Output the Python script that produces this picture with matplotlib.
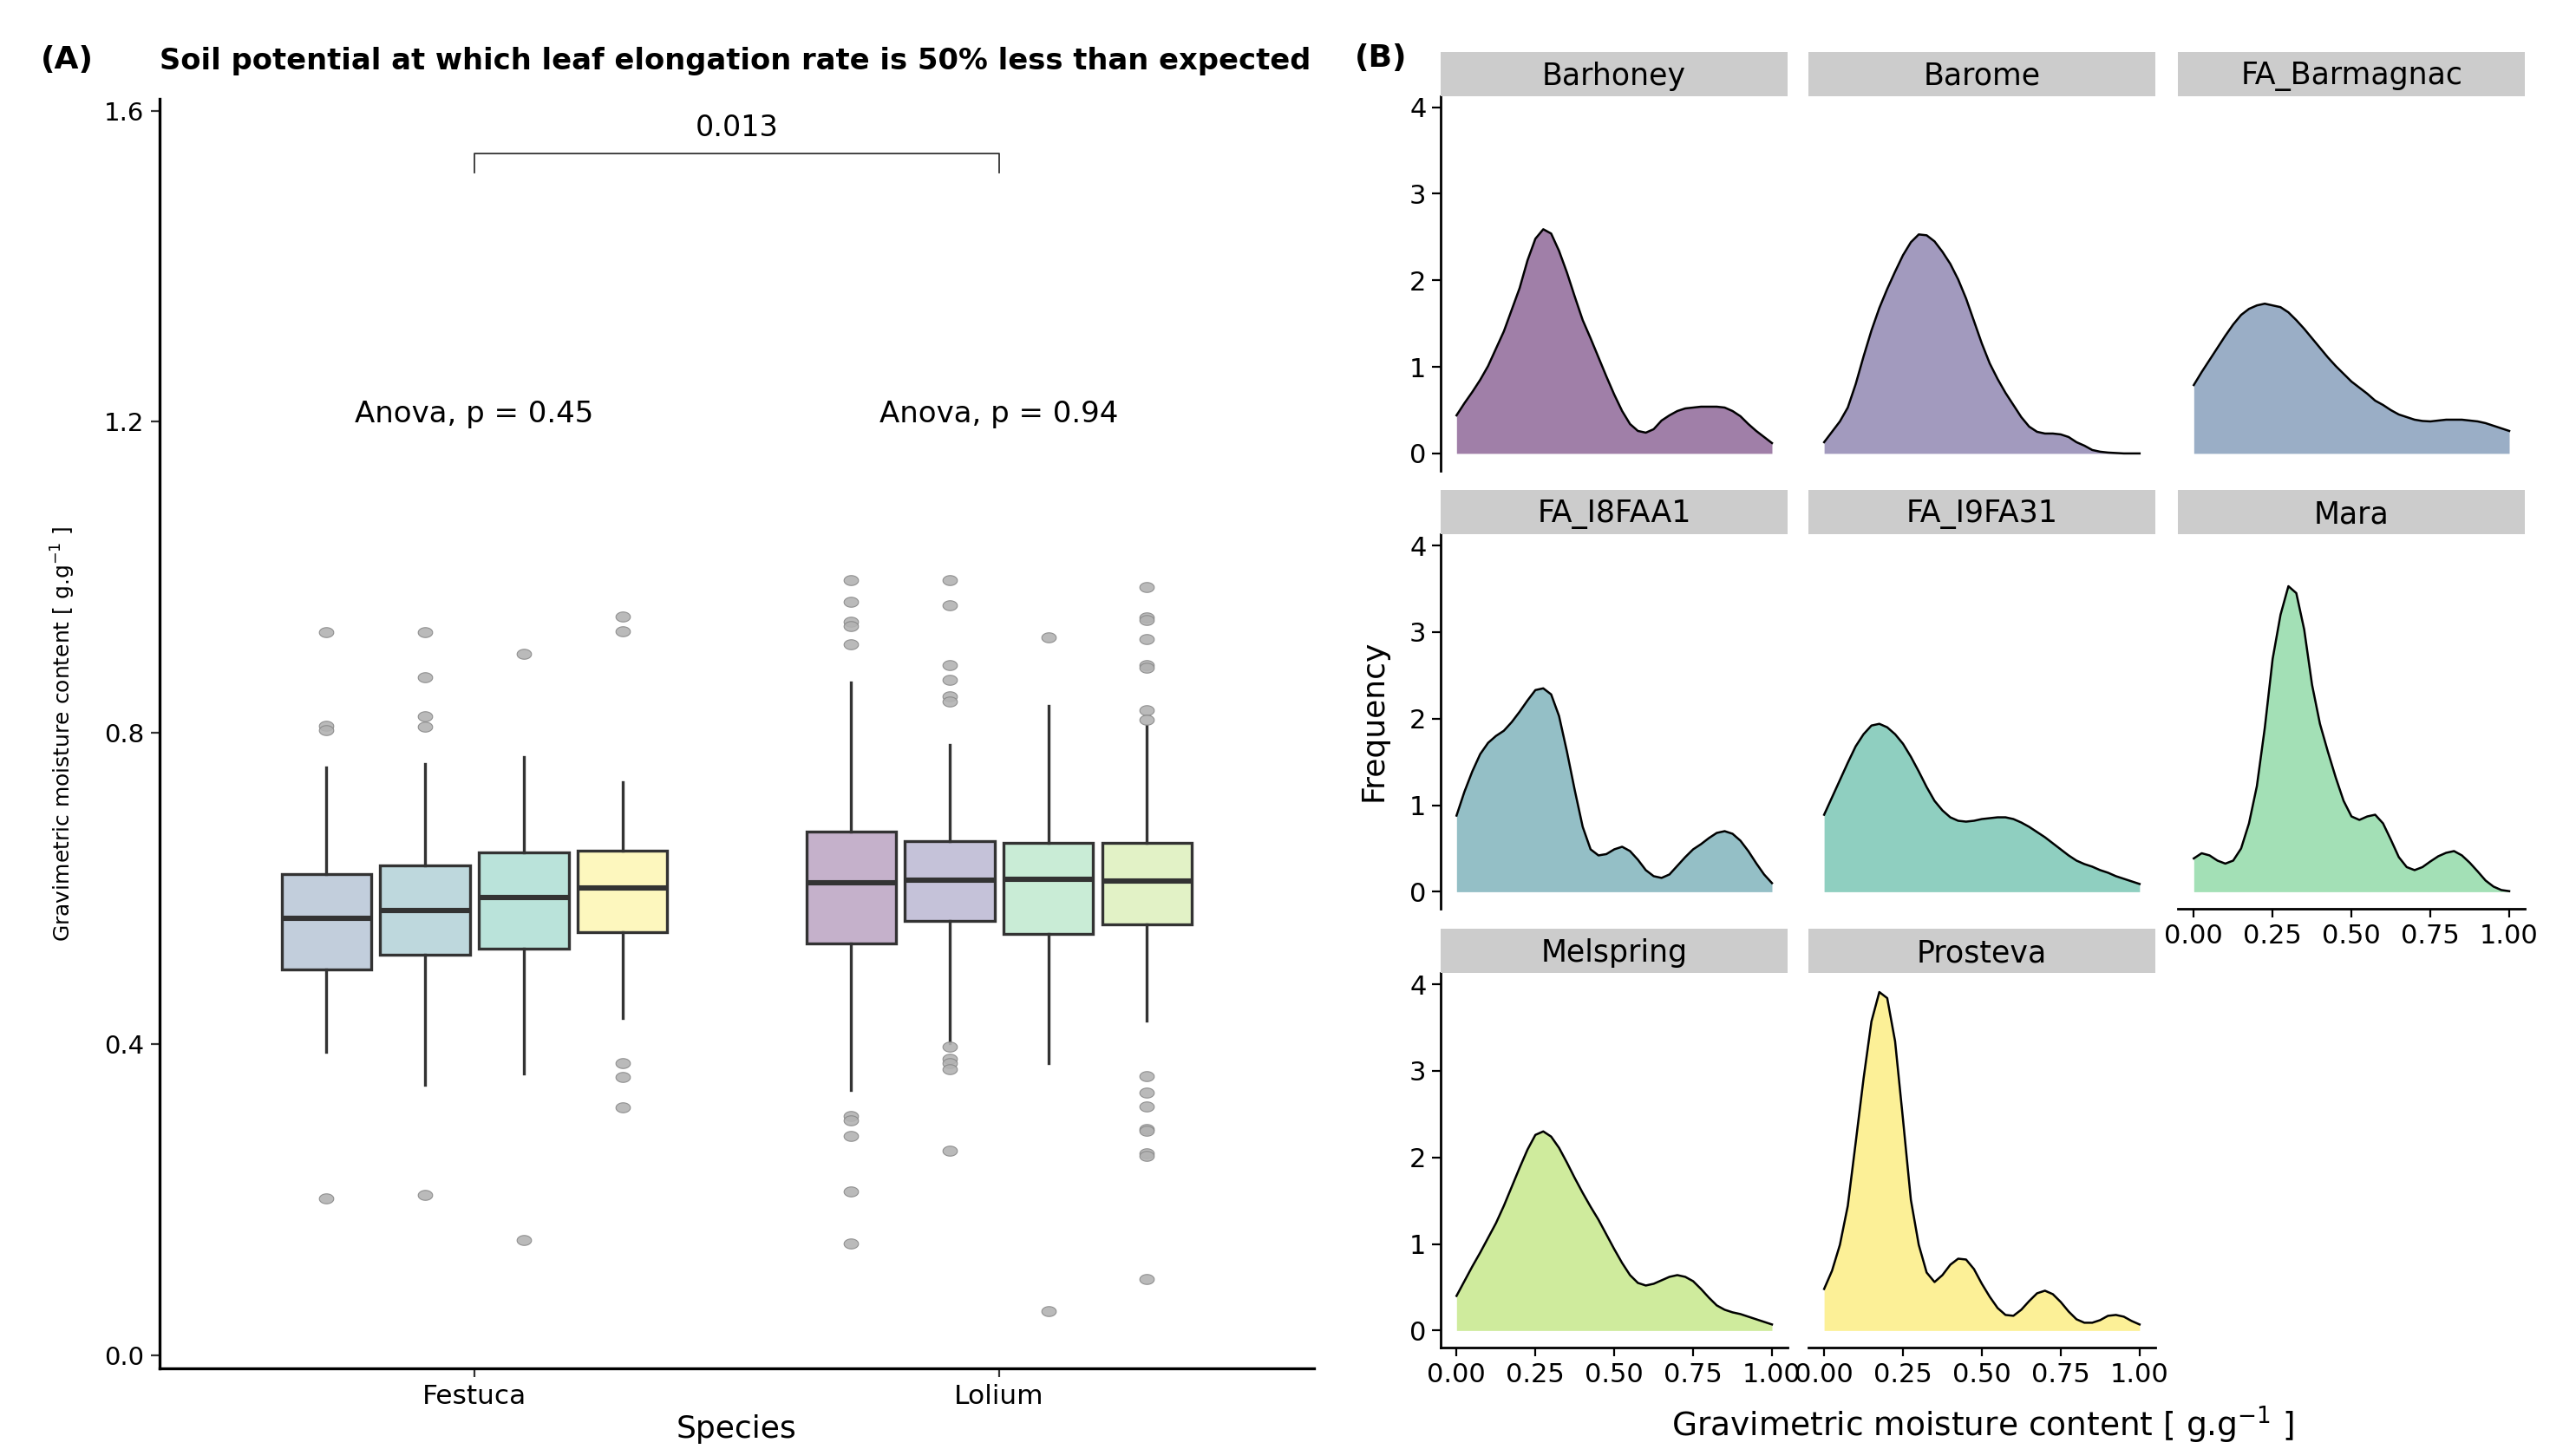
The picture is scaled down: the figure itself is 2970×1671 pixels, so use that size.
import numpy as np
import matplotlib.pyplot as plt
from matplotlib.markers import MarkerStyle

# ---- panel A : box plots ----
species = ["Festuca", "Lolium"]

festuca_q1 = [0.496, 0.515, 0.522, 0.544]
festuca_med = [0.561, 0.572, 0.588, 0.601]
festuca_q3 = [0.618, 0.630, 0.646, 0.649]
festuca_lo = [0.390, 0.348, 0.362, 0.433]
festuca_hi = [0.755, 0.760, 0.769, 0.737]
festuca_out = [[0.930, 0.809, 0.804, 0.201],
               [0.929, 0.871, 0.821, 0.808, 0.206],
               [0.902, 0.148],
               [0.949, 0.931, 0.375, 0.357, 0.319]]

lolium_q1 = [0.529, 0.558, 0.542, 0.554]
lolium_med = [0.607, 0.611, 0.612, 0.609]
lolium_q3 = [0.673, 0.661, 0.659, 0.658]
lolium_lo = [0.341, 0.401, 0.375, 0.430]
lolium_hi = [0.865, 0.785, 0.835, 0.809]
lolium_out = [[0.996, 0.968, 0.943, 0.937, 0.914, 0.307, 0.302, 0.282, 0.210, 0.144],
              [0.996, 0.964, 0.887, 0.868, 0.847, 0.840, 0.397, 0.381, 0.375, 0.368, 0.263],
              [0.923, 0.057],
              [0.988, 0.948, 0.945, 0.921, 0.887, 0.884, 0.829, 0.817,
               0.359, 0.338, 0.320, 0.291, 0.288, 0.259, 0.256, 0.098]]

festuca_colors = ["#c2cedc", "#bed8dd", "#bae3da", "#fdf7be"]
lolium_colors = ["#c5b1cb", "#c5c2d9", "#c9ecd6", "#e2f2c6"]

anova_labels = ["Anova, p = 0.45", "Anova, p = 0.94"]
pair_label = "0.013"

# ---- panel B : density curves, read every 0.025 g/g ----
gmc = np.linspace(0, 1, 41)
cultivars = ["Barhoney", "Barome", "FA_Barmagnac", "FA_I8FAA1", "FA_I9FA31",
             "Mara", "Melspring", "Prosteva"]

barhoney = [0.44, 0.58, 0.71, 0.85, 1.01, 1.21, 1.41, 1.66, 1.91, 2.23, 2.48, 2.59, 2.54, 2.34,
            2.09, 1.81, 1.54, 1.33, 1.11, 0.89, 0.68, 0.49, 0.34, 0.26, 0.24, 0.28, 0.38, 0.44,
            0.49, 0.52, 0.53, 0.54, 0.54, 0.54, 0.53, 0.49, 0.43, 0.34, 0.26, 0.19, 0.12]
barome = [0.13, 0.25, 0.37, 0.53, 0.80, 1.12, 1.42, 1.68, 1.90, 2.10, 2.29, 2.44, 2.53, 2.52,
          2.45, 2.33, 2.19, 2.01, 1.79, 1.53, 1.27, 1.04, 0.86, 0.70, 0.56, 0.42, 0.31, 0.25,
          0.23, 0.23, 0.22, 0.19, 0.13, 0.09, 0.04, 0.02, 0.01, 0.005, 0.0, 0.0, 0.0]
fa_barmagnac = [0.79, 0.94, 1.08, 1.22, 1.36, 1.49, 1.60, 1.67, 1.71, 1.73, 1.71, 1.69, 1.63, 1.54,
                1.44, 1.33, 1.22, 1.11, 1.01, 0.92, 0.83, 0.76, 0.69, 0.61, 0.56, 0.50, 0.45, 0.42,
                0.39, 0.375, 0.37, 0.38, 0.39, 0.39, 0.39, 0.38, 0.37, 0.35, 0.32, 0.29, 0.26]
fa_i8faa1 = [0.88, 1.155, 1.39, 1.59, 1.72, 1.80, 1.86, 1.96, 2.08, 2.21, 2.33, 2.35, 2.28, 2.03,
             1.62, 1.17, 0.75, 0.49, 0.42, 0.435, 0.49, 0.52, 0.47, 0.37, 0.25, 0.18, 0.16, 0.20,
             0.30, 0.40, 0.49, 0.55, 0.62, 0.68, 0.70, 0.67, 0.59, 0.47, 0.33, 0.20, 0.10]
fa_i9fa31 = [0.89, 1.09, 1.29, 1.49, 1.68, 1.82, 1.92, 1.94, 1.90, 1.82, 1.71, 1.56, 1.39, 1.21,
             1.05, 0.94, 0.86, 0.82, 0.81, 0.82, 0.84, 0.85, 0.86, 0.86, 0.84, 0.80, 0.75, 0.69,
             0.63, 0.56, 0.49, 0.42, 0.36, 0.32, 0.29, 0.25, 0.22, 0.18, 0.15, 0.12, 0.09]
mara = [0.385, 0.445, 0.42, 0.36, 0.325, 0.36, 0.50, 0.79, 1.22, 1.89, 2.69, 3.20, 3.53, 3.45,
        3.03, 2.39, 1.94, 1.62, 1.32, 1.05, 0.87, 0.83, 0.87, 0.89, 0.79, 0.60, 0.40, 0.285,
        0.25, 0.285, 0.35, 0.41, 0.45, 0.47, 0.42, 0.335, 0.235, 0.13, 0.06, 0.02, 0.007]
melspring = [0.40, 0.57, 0.74, 0.90, 1.07, 1.24, 1.44, 1.66, 1.88, 2.09, 2.26, 2.30, 2.24, 2.11,
             1.94, 1.76, 1.59, 1.43, 1.28, 1.11, 0.94, 0.78, 0.64, 0.55, 0.52, 0.54, 0.58, 0.62,
             0.64, 0.62, 0.57, 0.48, 0.38, 0.29, 0.24, 0.21, 0.19, 0.16, 0.13, 0.10, 0.07]
prosteva = [0.48, 0.69, 0.99, 1.44, 2.17, 2.91, 3.57, 3.91, 3.84, 3.34, 2.44, 1.51, 0.99, 0.67,
            0.56, 0.64, 0.76, 0.83, 0.82, 0.71, 0.54, 0.39, 0.26, 0.18, 0.17, 0.24, 0.34, 0.43,
            0.46, 0.42, 0.33, 0.22, 0.13, 0.09, 0.09, 0.12, 0.17, 0.18, 0.16, 0.11, 0.07]

densities = [barhoney, barome, fa_barmagnac, fa_i8faa1, fa_i9fa31, mara, melspring, prosteva]
density_colors = ["#a07fa8", "#a29abe", "#9aaec6", "#94bfc6", "#8fcfc0", "#a3e0b6",
                  "#cfeb9d", "#fcf097"]

dark = "#333333"


def box_panel(fig):
    ax = fig.add_axes([0.062, 0.0557, 0.448, 0.876])
    t = np.linspace(0, 2 * np.pi, 40)
    ellipse = MarkerStyle(np.column_stack([1.45 * np.cos(t), np.sin(t)]))
    offsets = [-0.282, -0.094, 0.094, 0.282]
    groups = [
        (festuca_q1, festuca_med, festuca_q3, festuca_lo, festuca_hi, festuca_out, festuca_colors),
        (lolium_q1, lolium_med, lolium_q3, lolium_lo, lolium_hi, lolium_out, lolium_colors),
    ]
    for g, (q1, med, q3, lo, hi, out, cols) in enumerate(groups):
        for j in range(4):
            st = dict(q1=q1[j], med=med[j], q3=q3[j], whislo=lo[j], whishi=hi[j], fliers=out[j])
            ax.bxp([st], positions=[g + 1 + offsets[j]], widths=0.171, patch_artist=True,
                   showcaps=False,
                   boxprops=dict(facecolor=cols[j], edgecolor=dark, linewidth=2.4),
                   medianprops=dict(color=dark, linewidth=4.4, solid_capstyle="butt"),
                   whiskerprops=dict(color=dark, linewidth=2.4),
                   flierprops=dict(marker=ellipse, markersize=12, markerfacecolor="#b3b3b3",
                                   markeredgecolor="#888888", markeredgewidth=0.8, alpha=0.9))

    # comparison bracket and labels
    ax.plot([1, 1, 2, 2], [1.52, 1.545, 1.545, 1.52], color=dark, lw=1.3)
    ax.text(1.5, 1.578, pair_label, ha="center", va="center", fontsize=24)
    for g, lab in enumerate(anova_labels):
        ax.text(g + 1, 1.21, lab, ha="center", va="center", fontsize=24.5)

    ax.set_xlim(0.4, 2.6)
    ax.set_ylim(-0.017, 1.615)
    ax.set_xticks([1, 2])
    ax.set_xticklabels(species, fontsize=22.5)
    ax.set_yticks([0.0, 0.4, 0.8, 1.2, 1.6])
    ax.set_yticklabels(["0.0", "0.4", "0.8", "1.2", "1.6"], fontsize=21)
    ax.tick_params(length=7, width=1.6, color=dark, pad=6)
    for s in ["top", "right"]:
        ax.spines[s].set_visible(False)
    for s in ["left", "bottom"]:
        ax.spines[s].set_linewidth(2.4)
    ax.set_xlabel("Species", fontsize=26, labelpad=4)
    ax.set_ylabel(r"Gravimetric moisture content [ g.g$^{-1}$ ]", fontsize=18, labelpad=22)


def density_panels(fig):
    lefts = [0.5593, 0.7020, 0.8455]
    bottoms = [0.6753, 0.3728, 0.0700]
    w, h, sh = 0.1347, 0.2585, 0.0305
    bottom_of_col = {5, 6, 7}
    for k, name in enumerate(cultivars):
        r, c = divmod(k, 3)
        ax = fig.add_axes([lefts[c], bottoms[r], w, h])
        ax.fill_between(gmc, 0, densities[k], color=density_colors[k], lw=0)
        ax.plot(gmc, densities[k], color="black", lw=1.8)
        ax.set_xlim(-0.05, 1.05)
        ax.set_ylim(-0.197, 4.13)
        ax.set_xticks([0, 0.25, 0.5, 0.75, 1.0])
        ax.set_yticks([0, 1, 2, 3, 4])
        ax.tick_params(length=7, width=1.6, labelsize=22, pad=5)
        for s in ["top", "right"]:
            ax.spines[s].set_visible(False)
        for s in ["left", "bottom"]:
            ax.spines[s].set_linewidth(2.0)
        if c != 0:
            ax.spines["left"].set_visible(False)
            ax.tick_params(left=False, labelleft=False)
        if k in bottom_of_col:
            ax.set_xticklabels(["0.00", "0.25", "0.50", "0.75", "1.00"])
        else:
            ax.spines["bottom"].set_visible(False)
            ax.tick_params(bottom=False, labelbottom=False)

        strip = fig.add_axes([lefts[c], bottoms[r] + h, w, sh])
        strip.set_facecolor("#cccccc")
        strip.set_xticks([])
        strip.set_yticks([])
        for s in strip.spines.values():
            s.set_visible(False)
        strip.text(0.5, 0.45, name, ha="center", va="center", fontsize=25,
                   transform=strip.transAxes)

    fig.text(0.533, 0.5027, "Frequency", rotation=90, ha="center", va="center", fontsize=26)
    fig.text(0.7697, 0.0165, r"Gravimetric moisture content [ g.g$^{-1}$ ]",
             ha="center", va="center", fontsize=27)


def main():
    plt.rcParams["font.family"] = ["DejaVu Sans"]
    plt.rcParams["mathtext.fontset"] = "dejavusans"
    fig = plt.figure(figsize=(29.7, 16.71), dpi=100)

    box_panel(fig)
    density_panels(fig)

    fig.text(0.0158, 0.959, "(A)", fontsize=26, fontweight="bold", va="center")
    fig.text(0.062, 0.958, "Soil potential at which leaf elongation rate is 50% less than expected",
             fontsize=24.3, fontweight="bold", va="center")
    fig.text(0.526, 0.960, "(B)", fontsize=26, fontweight="bold", va="center")

    fig.savefig("out.png", dpi=100, facecolor="white")


if __name__ == '__main__':
    main()
